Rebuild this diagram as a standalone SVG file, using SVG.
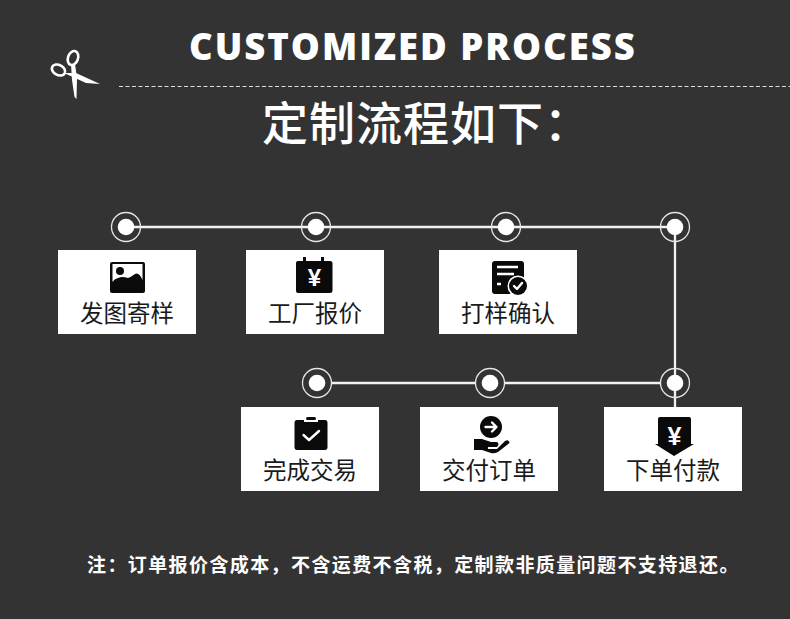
<svg xmlns="http://www.w3.org/2000/svg" width="790" height="619" viewBox="0 0 790 619">
<style>
.bg{fill:#333333}
.box{fill:#ffffff}
.lab{font-family:"Noto Sans CJK SC",sans-serif;font-size:23.5px;fill:#1a1a1a;text-anchor:middle;font-weight:400}
.ring{fill:none;stroke:#e6e6e6;stroke-width:1.3}
.dot{fill:#ffffff}
.line{stroke:#f2f2f2;stroke-width:2.300;fill:none}
.ic{fill:#0a0a0a}
.iw{fill:#ffffff}
.is{fill:none;stroke:#ffffff;stroke-width:2.400;stroke-linecap:round;stroke-linejoin:round}
</style>
<rect class="bg" width="790" height="619"/>
<g id="header">
<text x="189" y="60" font-family="'Open Sans',sans-serif" font-weight="800" font-size="36.5" letter-spacing="1.970" fill="#ffffff">CUSTOMIZED PROCESS</text>
<path d="M119 86.500H790" stroke="#dddddd" stroke-width="1" stroke-dasharray="4 2.500" fill="none"/>
<text x="262" y="140" font-family="'Noto Sans CJK SC',sans-serif" font-weight="500" font-size="46" letter-spacing="1" fill="#ffffff">定制流程如下：</text>
</g>
<g id="scissors">
<ellipse cx="58.500" cy="70" rx="7" ry="5" transform="rotate(28 58.500 70)" fill="none" stroke="#fff" stroke-width="2.600"/>
<ellipse cx="73" cy="58" rx="5" ry="7.200" transform="rotate(20 73 58)" fill="none" stroke="#fff" stroke-width="2.600"/>
<path d="M64 73L76 73L100 84L86 83ZM71 64L75 64L77 78L76.500 99L74.500 97L72 80Z" fill="#fff"/>
</g>
<g id="connectors">
<path class="line" d="M126 227H675V407"/>
<path class="line" d="M332 383H475M505 383H660"/>
</g>
<g id="step1">
<circle class="ring" cx="126" cy="227" r="14.500"/><circle class="dot" cx="126" cy="227" r="8.300"/>
<rect class="box" x="58" y="250" width="138" height="84"/>
<path class="ic" d="M112 262H143Q145 262 145 264V291Q145 293 143 293H112Q110 293 110 291V264Q110 262 112 262Z"/>
<path class="iw" d="M112.500 264H142.500V280Q139 272 135 274Q131 277 128 278Q122 276 118 278Q114 279 112.500 282Z"/>
<circle class="ic" cx="120" cy="271" r="4"/>
<text class="lab" x="127" y="322">发图寄样</text>
</g>
<g id="step2">
<circle class="ring" cx="316" cy="227" r="14.500"/><circle class="dot" cx="316" cy="227" r="8.300"/>
<rect class="box" x="246" y="250" width="138" height="84"/>
<path class="ic" d="M298 261H303V257H306V261H321V257H324V261H330Q332.500 261 332.500 263V291Q332.500 293 330 293H298Q296 293 296 291V263Q296 261 298 261Z"/>
<text x="314.500" y="286" font-family="'Liberation Sans',sans-serif" font-weight="700" font-size="24" fill="#fff" text-anchor="middle">¥</text>
<text class="lab" x="315" y="322">工厂报价</text>
</g>
<g id="step3">
<circle class="ring" cx="506" cy="227" r="14.500"/><circle class="dot" cx="506" cy="227" r="8.300"/>
<rect class="box" x="439" y="250" width="138" height="84"/>
<path class="ic" d="M495 261H521Q524 261 524 264V279L510 294H495Q492 294 492 291V264Q492 261 495 261Z"/>
<path d="M497 267H518M497 274H514M497 284H501" stroke="#fff" stroke-width="2.400" fill="none"/>
<circle cx="518" cy="286" r="10.500" fill="#fff"/>
<circle class="ic" cx="518" cy="286" r="9"/>
<path class="is" d="M514 286L517 289L522 283"/>
<text class="lab" x="508" y="322">打样确认</text>
</g>
<g id="step4">
<circle class="ring" cx="675" cy="227" r="14.500"/><circle class="dot" cx="675" cy="227" r="8.300"/>
</g>
<g id="step5">
<circle class="ring" cx="675" cy="383" r="14.500"/><circle class="dot" cx="675" cy="383" r="8.300"/>
<rect class="box" x="604" y="407" width="138" height="84"/>
<path class="ic" d="M660 417H689Q691 417 691 419V444H694L674 456L655 444H658V419Q658 417 660 417Z"/>
<text x="674.500" y="445" font-family="'Liberation Sans',sans-serif" font-weight="700" font-size="25" fill="#fff" text-anchor="middle">¥</text>
<text class="lab" x="673" y="479">下单付款</text>
</g>
<g id="step6">
<circle class="ring" cx="490" cy="383" r="14.500"/><circle class="dot" cx="490" cy="383" r="8.300"/>
<rect class="box" x="420" y="407" width="138" height="84"/>
<circle class="ic" cx="491" cy="427" r="11"/>
<path class="is" d="M485.500 427H496M492 422.500L496.500 427L492 431.500"/>
<path class="ic" d="M474 439H482L491 442H497Q500 444 497 447H488V449H497L505 441Q509 439 509.500 443L498 452Q494 454 491 453L482 450H474Z"/>
<text class="lab" x="489" y="479">交付订单</text>
</g>
<g id="step7">
<circle class="ring" cx="317" cy="383" r="14.500"/><circle class="dot" cx="317" cy="383" r="8.300"/>
<rect class="box" x="241" y="407" width="138" height="84"/>
<path class="ic" d="M297 420H304V422H318V420H325Q327.500 420 327.500 423V447Q327.500 450 325 450H297Q294.500 450 294.500 447V423Q294.500 420 297 420Z"/>
<rect class="ic" x="306" y="417" width="10" height="3" rx="1.500"/>
<path class="is" d="M303.500 435L309 440L319 431"/>
<text class="lab" x="310" y="479">完成交易</text>
</g>
<g id="note">
<text x="87" y="572" font-family="'Noto Sans CJK SC',sans-serif" font-weight="700" font-size="19" letter-spacing="1.400" fill="#ffffff">注：订单报价含成本，不含运费不含税，定制款非质量问题不支持退还。</text>
</g>
</svg>
